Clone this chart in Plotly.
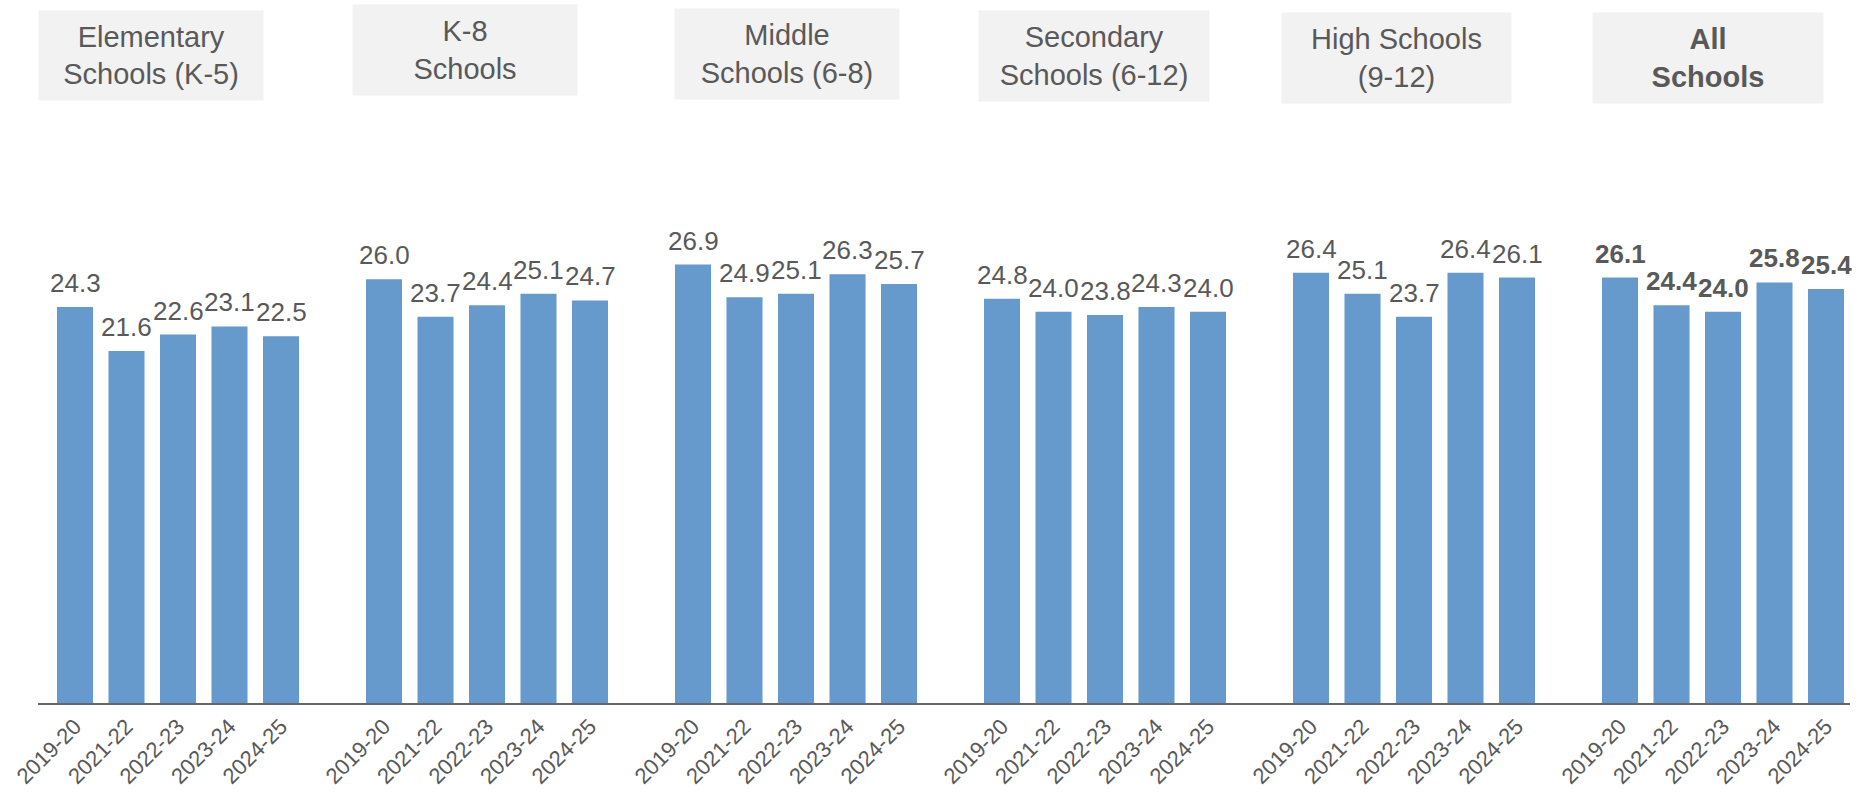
import plotly.graph_objects as go

# ---- data ----
groups = ["Elementary<br>Schools (K-5)", "K-8<br>Schools", "Middle<br>Schools (6-8)",
          "Secondary<br>Schools (6-12)", "High Schools<br>(9-12)", "<b>All<br>Schools</b>"]
years = ["2019-20", "2021-22", "2022-23", "2023-24", "2024-25"]
elementary = [24.3, 21.6, 22.6, 23.1, 22.5]
k8 = [26.0, 23.7, 24.4, 25.1, 24.7]
middle = [26.9, 24.9, 25.1, 26.3, 25.7]
secondary = [24.8, 24.0, 23.8, 24.3, 24.0]
high = [26.4, 25.1, 23.7, 26.4, 26.1]
all_schools = [26.1, 24.4, 24.0, 25.8, 25.4]
series = [elementary, k8, middle, secondary, high, all_schools]

# ---- layout styling (positions/sizes) ----
SLOT = 6  # 5 bars + 1 gap per group
header_style = [  # (xshift px, top px, width px, height px)
    (-27, 10, 224, 89),
    (-22, 4, 224, 90),
    (-9, 8, 224, 90),
    (-11, 10, 230, 90),
    (-18, 12, 229, 90),
    (-15, 12, 230, 90),
]
GRAY = "#595959"
BAR = "#6699CC"
FONT = "Liberation Sans, Arial, sans-serif"

W, H = 1858, 798
ML, MR, MT, MB = 38, 8, 0, 95
plot_h = H - MT - MB
px_per_unit_y = 16.3
px_per_slot = 51.5
first_center = 75

x_all, y_all, tickvals, ticktext = [], [], [], []
for g, vals in enumerate(series):
    for i, v in enumerate(vals):
        x_all.append(g * SLOT + i)
        y_all.append(v)
        tickvals.append(g * SLOT + i)
        ticktext.append(years[i])

fig = go.Figure()
fig.add_trace(go.Bar(x=x_all, y=y_all, marker=dict(color=BAR, line=dict(width=0)),
                     width=0.70, hoverinfo="x+y"))

annotations = []
for g, vals in enumerate(series):
    bold = g == len(series) - 1
    for i, v in enumerate(vals):
        t = f"{v:.1f}"
        annotations.append(dict(
            x=g * SLOT + i, y=v, xref="x", yref="y", text=f"<b>{t}</b>" if bold else t,
            showarrow=False, yanchor="bottom", xanchor="center", yshift=7,
            font=dict(family=FONT, size=26, color=GRAY)))
    xs, top, w, h = header_style[g]
    annotations.append(dict(
        x=g * SLOT + 2, xref="x", xshift=xs, y=1 - top / plot_h, yref="paper",
        yanchor="top", xanchor="center", text=groups[g], showarrow=False,
        width=w, height=h, bgcolor="#F2F2F2", borderpad=0, align="center", valign="middle",
        font=dict(family=FONT, size=29, color=GRAY)))

x0 = -(first_center - ML) / px_per_slot
x1 = x0 + (W - ML - MR) / px_per_slot

fig.update_layout(
    width=W, height=H, margin=dict(l=ML, r=MR, t=MT, b=MB),
    paper_bgcolor="white", plot_bgcolor="white", showlegend=False,
    annotations=annotations, bargap=0.3,
    xaxis=dict(range=[x0, x1], tickvals=tickvals, ticktext=ticktext, tickangle=-45,
               showline=True, linecolor="#666666", linewidth=2, showgrid=False,
               zeroline=False, ticks="", automargin=False,
               tickfont=dict(family=FONT, size=22, color=GRAY)),
    yaxis=dict(range=[0, plot_h / px_per_unit_y], visible=False, showgrid=False,
               zeroline=False, automargin=False),
)

fig.write_html("out.html", config={"displayModeBar": False},
               post_script="document.body.style.margin='0';document.body.style.overflow='hidden';")
